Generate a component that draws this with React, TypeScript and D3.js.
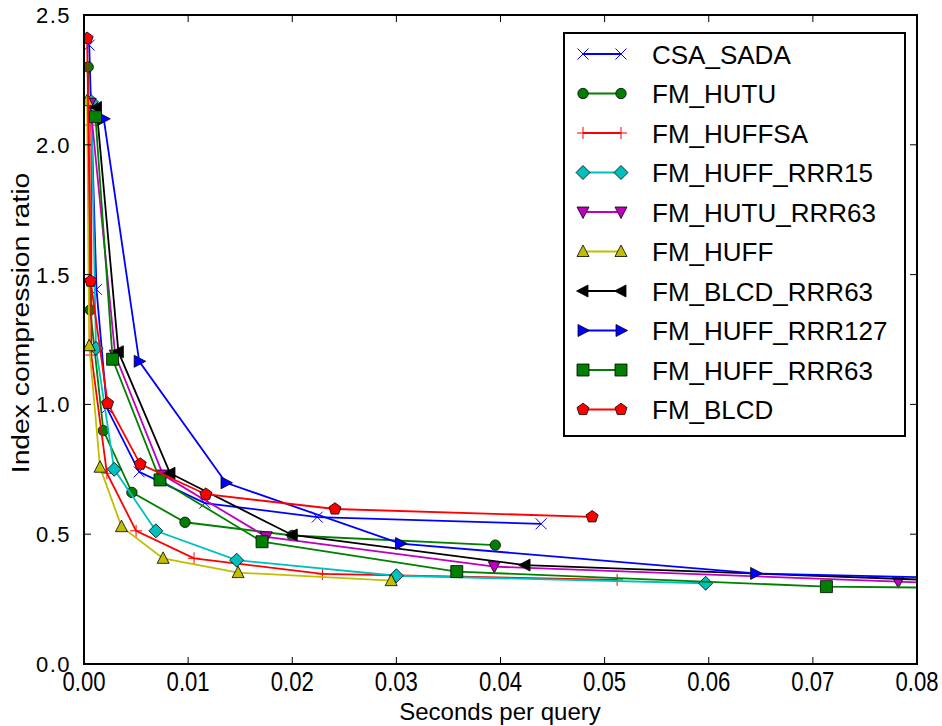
import React from "react";
import * as d3 from "d3";

// ---------- data ----------
const X_TICKS = [0, 0.01, 0.02, 0.03, 0.04, 0.05, 0.06, 0.07, 0.08];
const Y_TICKS = [0, 0.5, 1.0, 1.5, 2.0, 2.5];
const X_TICK_LABELS = ["0.00", "0.01", "0.02", "0.03", "0.04", "0.05", "0.06", "0.07", "0.08"];
const Y_TICK_LABELS = ["0.0", "0.5", "1.0", "1.5", "2.0", "2.5"];

const SERIES_NAMES = [
  "CSA_SADA",
  "FM_HUTU",
  "FM_HUFFSA",
  "FM_HUFF_RRR15",
  "FM_HUTU_RRR63",
  "FM_HUFF",
  "FM_BLCD_RRR63",
  "FM_HUFF_RRR127",
  "FM_HUFF_RRR63",
  "FM_BLCD",
];

const csaSada: [number, number][] = [
  [0.0005, 2.384], [0.0012, 1.443], [0.0022, 0.986], [0.0053, 0.74], [0.0116, 0.62], [0.0224, 0.566], [0.0439, 0.54],
];
const fmHutu: [number, number][] = [
  [0.0004, 2.30], [0.0006, 1.364], [0.00186, 0.899], [0.0046, 0.661], [0.0097, 0.546], [0.020, 0.495], [0.0395, 0.458],
];
const fmHuffsa: [number, number][] = [
  [0.0007, 2.076], [0.0007, 1.19], [0.0022, 0.735], [0.005, 0.513], [0.01057, 0.407], [0.0229, 0.347], [0.0512, 0.324],
];
const fmHuffRrr15: [number, number][] = [
  [0.0007, 2.166], [0.00115, 1.216], [0.0029, 0.75], [0.0069, 0.513], [0.01466, 0.40], [0.030, 0.34], [0.0597, 0.311],
];
const fmHutuRrr63: [number, number][] = [
  [0.0006, 2.16], [0.0030, 1.19], [0.0076, 0.728], [0.0175, 0.49], [0.0394, 0.375], [0.0782, 0.317], [0.1, 0.287],
];
const fmHuff: [number, number][] = [
  [0.0003, 2.17], [0.0005, 1.226], [0.00154, 0.758], [0.0036, 0.529], [0.0076, 0.407], [0.0148, 0.352], [0.0295, 0.321],
];
const fmBlcdRrr63: [number, number][] = [
  [0.0012, 2.144], [0.0033, 1.203], [0.00826, 0.735], [0.020, 0.497], [0.04236, 0.381], [0.1, 0.296],
];
const fmHuffRrr127: [number, number][] = [
  [0.0019, 2.10], [0.0053, 1.166], [0.01364, 0.698], [0.0304, 0.464], [0.0645, 0.349], [0.1, 0.316],
];
const fmHuffRrr63: [number, number][] = [
  [0.0011, 2.108], [0.00275, 1.174], [0.0073, 0.709], [0.0171, 0.471], [0.0358, 0.356], [0.0713, 0.298], [0.1, 0.287],
];
const fmBlcd: [number, number][] = [
  [0.0003, 2.41], [0.00064, 1.475], [0.00227, 1.004], [0.0054, 0.77], [0.0117, 0.654], [0.0241, 0.597], [0.0488, 0.567],
];

const SERIES_DATA = [
  csaSada, fmHutu, fmHuffsa, fmHuffRrr15, fmHutuRrr63, fmHuff, fmBlcdRrr63, fmHuffRrr127, fmHuffRrr63, fmBlcd,
];
const SERIES_COLORS = [
  "#0000ff", "#008000", "#ff0000", "#00bfbf", "#bf00bf", "#bfbf00", "#000000", "#0000ff", "#008000", "#ff0000",
];
const SERIES_MARKERS = ["x", "o", "+", "D", "v", "^", "<", ">", "s", "p"];

// ---------- layout ----------
const W = 942;
const H = 726;
const L = 84;
const R = 917;
const T = 15;
const B = 664;

function markerPath(m: string): string {
  switch (m) {
    case "o":
      return d3.symbol(d3.symbolCircle, Math.PI * 5.2 * 5.2)()!;
    case "s":
      return "M-6,-6L6,-6L6,6L-6,6Z";
    case "D":
      return "M0,-7L7,0L0,7L-7,0Z";
    case "^":
      return "M0,-6.5L6,5L-6,5Z";
    case "v":
      return "M0,6.5L6,-5L-6,-5Z";
    case "<":
      return "M-6.5,0L5,-6L5,6Z";
    case ">":
      return "M6.5,0L-5,-6L-5,6Z";
    case "p": {
      const r = 6.3;
      const pts = d3.range(5).map((i) => {
        const a = -Math.PI / 2 + (i * 2 * Math.PI) / 5;
        return [r * Math.cos(a), r * Math.sin(a)];
      });
      return "M" + pts.map((p) => p[0].toFixed(2) + "," + p[1].toFixed(2)).join("L") + "Z";
    }
    case "x":
      return "M-5.5,-5.5L5.5,5.5M-5.5,5.5L5.5,-5.5";
    case "+":
      return "M-6,0L6,0M0,-6L0,6";
  }
  return "";
}

function Marker({ m, color, x, y }: { m: string; color: string; x: number; y: number }) {
  const line = m === "x" || m === "+";
  return (
    <path
      d={markerPath(m)}
      transform={`translate(${x},${y})`}
      fill={line ? "none" : color}
      stroke={line ? color : "#000"}
      strokeWidth={line ? 1 : 0.8}
    />
  );
}

export default function App() {
  const x = d3.scaleLinear().domain([0, 0.08]).range([L, R]);
  const y = d3.scaleLinear().domain([0, 2.5]).range([B, T]);
  const line = d3
    .line<[number, number]>()
    .x((d) => x(d[0]))
    .y((d) => y(d[1]));

  const legX = 564;
  const legY = 33;
  const legW = 341;
  const legH = 403;
  const rowY0 = 54;
  const rowDy = 39.5;

  return (
    <svg
      width={W}
      height={H}
      style={{ position: "absolute", left: 0, top: 0, background: "#fff" }}
      fontFamily="'Liberation Sans', Arial, sans-serif"
    >
      <rect x={0} y={0} width={W} height={H} fill="#fff" />
      <defs>
        <clipPath id="plotclip">
          <rect x={L} y={T} width={R - L} height={B - T} />
        </clipPath>
      </defs>

      <g clipPath="url(#plotclip)">
        {SERIES_DATA.map((data, i) => (
          <g key={SERIES_NAMES[i]}>
            <path d={line(data)!} fill="none" stroke={SERIES_COLORS[i]} strokeWidth={1.8} />
            {data.map((d, j) => (
              <Marker key={j} m={SERIES_MARKERS[i]} color={SERIES_COLORS[i]} x={x(d[0])} y={y(d[1])} />
            ))}
          </g>
        ))}
      </g>

      {/* frame */}
      <rect x={L} y={T} width={R - L} height={B - T} fill="none" stroke="#000" strokeWidth={2} />

      {/* x ticks */}
      {X_TICKS.map((t, i) => (
        <g key={"xt" + i}>
          <line x1={x(t)} x2={x(t)} y1={B} y2={B - 7} stroke="#000" strokeWidth={1} />
          <line x1={x(t)} x2={x(t)} y1={T} y2={T + 7} stroke="#000" strokeWidth={1} />
          <text
            x={x(t)}
            y={691}
            textAnchor="middle"
            fontSize={27}
            fontFamily="'Liberation Sans Narrow', 'Liberation Sans', Arial, sans-serif"
            transform={`translate(${x(t)},0) scale(0.82,1) translate(${-x(t)},0)`}
          >
            {X_TICK_LABELS[i]}
          </text>
        </g>
      ))}

      {/* y ticks */}
      {Y_TICKS.map((t, i) => (
        <g key={"yt" + i}>
          <line x1={L} x2={L + 7} y1={y(t)} y2={y(t)} stroke="#000" strokeWidth={1} />
          <line x1={R} x2={R - 7} y1={y(t)} y2={y(t)} stroke="#000" strokeWidth={1} />
          <text x={71} y={y(t) + 8} textAnchor="end" fontSize={22} letterSpacing={1.5}>
            {Y_TICK_LABELS[i]}
          </text>
        </g>
      ))}

      {/* axis labels */}
      <text x={500} y={720} textAnchor="middle" fontSize={24}>
        Seconds per query
      </text>
      <text
        transform={`translate(29,${323}) rotate(-90) scale(1.18,1)`}
        textAnchor="middle"
        fontSize={24}
      >
        Index compression ratio
      </text>

      {/* legend */}
      <rect x={legX} y={legY} width={legW} height={legH} fill="#fff" stroke="#000" strokeWidth={2} />
      {SERIES_NAMES.map((name, i) => {
        const ry = rowY0 + i * rowDy;
        return (
          <g key={"lg" + i}>
            <line x1={583} x2={621} y1={ry} y2={ry} stroke={SERIES_COLORS[i]} strokeWidth={1.8} />
            <Marker m={SERIES_MARKERS[i]} color={SERIES_COLORS[i]} x={583} y={ry} />
            <Marker m={SERIES_MARKERS[i]} color={SERIES_COLORS[i]} x={621} y={ry} />
            <text x={652} y={ry + 9.5} fontSize={26}>
              {name}
            </text>
          </g>
        );
      })}
    </svg>
  );
}
